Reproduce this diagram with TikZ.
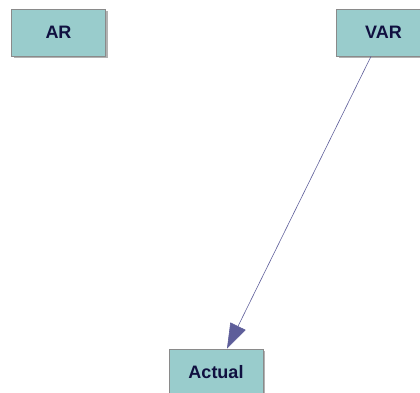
\documentclass[tikz,border=0pt]{standalone}
\usepackage{fontspec}
\setmainfont{Liberation Sans}
\usetikzlibrary{arrows.meta,shadows}
\definecolor{boxfill}{HTML}{99CCCC}
\definecolor{boxline}{HTML}{8A8A8A}
\definecolor{txt}{HTML}{101040}
\definecolor{arr}{HTML}{5E5E9A}
\tikzset{
  var/.style={draw=boxline, line width=0.8pt, fill=boxfill, minimum width=94pt, minimum height=47pt,
    inner sep=0pt, font=\fontsize{18}{18}\selectfont\bfseries, text=txt,
    drop shadow={shadow xshift=2pt, shadow yshift=-2pt, fill=black!30, opacity=1}},
  link/.style={draw=arr, line width=0.6pt, -{Triangle[length=25pt,width=17pt,fill=arr]}}
}
\begin{document}
\begin{tikzpicture}[x=1pt,y=-1pt]
\useasboundingbox (0,0) rectangle (420,393);
\node[var] (AR) at (58.5,32.5) {AR};
\node[var] (VAR) at (383.5,32.5) {VAR};
\node[var] (Actual) at (216,372.5) {Actual};
\draw[link] ([xshift=-12.5pt]VAR.south) -- ([xshift=11pt]Actual.north);
\end{tikzpicture}
\end{document}
